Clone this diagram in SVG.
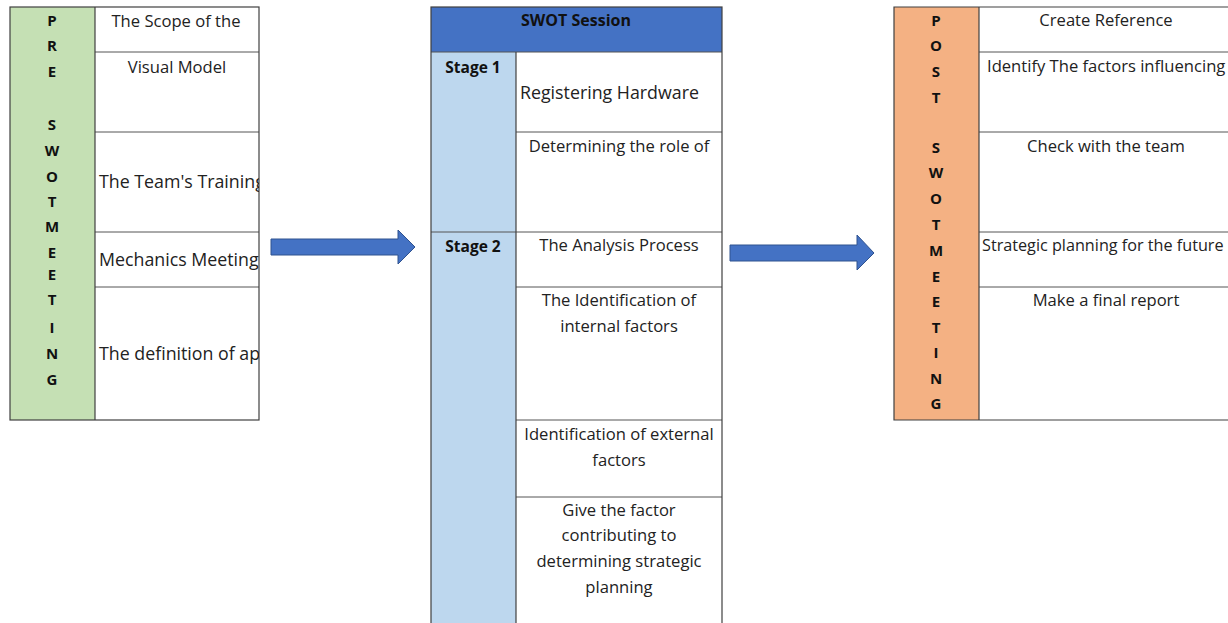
<svg xmlns="http://www.w3.org/2000/svg" width="1228" height="623" viewBox="0 0 1228 623">
<style>
.border{fill:none;stroke:#404040;stroke-width:1.2}
.sep{stroke:#555;stroke-width:1}
.t{font-family:"Open Sans","Liberation Sans",sans-serif;fill:#222}
.c{text-anchor:middle}
.b{font-family:"Open Sans","Liberation Sans",sans-serif;font-weight:bold;font-size:15px;fill:#111;text-anchor:middle}
.s15{font-size:16.6px}
.s17{font-size:17.8px}
.arrow{fill:#4472C4;stroke:#2F528F;stroke-width:1}
</style>
<defs>
<clipPath id="clipL"><rect x="96" y="7" width="163" height="414"/></clipPath>
</defs>
<rect width="1228" height="623" fill="#fff"/>

<g id="pre-swot-meeting">
<rect x="10" y="7" width="85" height="413" fill="#C5E0B4"/>
<rect x="95" y="7" width="164" height="413" fill="#fff"/>
<line class="sep" x1="95" y1="52" x2="259" y2="52"/>
<line class="sep" x1="95" y1="132" x2="259" y2="132"/>
<line class="sep" x1="95" y1="232" x2="259" y2="232"/>
<line class="sep" x1="95" y1="287" x2="259" y2="287"/>
<line class="border" x1="95" y1="7" x2="95" y2="420"/>
<rect class="border" x="10" y="7" width="249" height="413"/>
<g class="b">
<text x="52" y="26">P</text><text x="52" y="51">R</text><text x="52" y="77">E</text>
<text x="52" y="130">S</text><text x="52" y="156">W</text><text x="52" y="182">O</text><text x="52" y="207">T</text>
<text x="52" y="232">M</text><text x="52" y="258">E</text><text x="52" y="280">E</text><text x="52" y="305">T</text>
<text x="52" y="333">I</text><text x="52" y="359">N</text><text x="52" y="385">G</text>
</g>
<g clip-path="url(#clipL)">
<text class="t c s15" x="176" y="27">The Scope of the</text>
<text class="t c s15" x="177" y="73">Visual Model</text>
<text class="t s17" x="99" y="188">The Team's Training</text>
<text class="t s17" x="99" y="266">Mechanics Meeting</text>
<text class="t s17" x="99" y="360">The definition of app</text>
</g>
</g>

<g id="swot-session">
<rect x="431" y="7" width="291" height="45" fill="#4472C4"/>
<rect x="431" y="52" width="85" height="575" fill="#BDD7EE"/>
<rect x="516" y="52" width="206" height="575" fill="#fff"/>
<line class="sep" x1="431" y1="52" x2="722" y2="52"/>
<line class="sep" x1="516" y1="132" x2="722" y2="132"/>
<line class="sep" x1="431" y1="232" x2="722" y2="232"/>
<line class="sep" x1="516" y1="287" x2="722" y2="287"/>
<line class="sep" x1="516" y1="420" x2="722" y2="420"/>
<line class="sep" x1="516" y1="497" x2="722" y2="497"/>
<line class="border" x1="516" y1="52" x2="516" y2="627"/>
<rect class="border" x="431" y="7" width="291" height="620"/>
<text class="b" x="576" y="26" style="font-size:16px">SWOT Session</text>
<text class="b" x="473" y="73" style="font-size:15.5px">Stage 1</text>
<text class="b" x="473" y="252" style="font-size:15.5px">Stage 2</text>
<text class="t s17" x="520" y="99">Registering Hardware</text>
<text class="t c s15" x="619" y="152">Determining the role of</text>
<text class="t c s15" x="619" y="251">The Analysis Process</text>
<text class="t c s15" x="619" y="306">The Identification of</text>
<text class="t c s15" x="619" y="332">internal factors</text>
<text class="t c s15" x="619" y="440">Identification of external</text>
<text class="t c s15" x="619" y="466">factors</text>
<text class="t c s15" x="619" y="516">Give the factor</text>
<text class="t c s15" x="619" y="541">contributing to</text>
<text class="t c s15" x="619" y="567">determining strategic</text>
<text class="t c s15" x="619" y="593">planning</text>
</g>

<g id="post-swot-meeting">
<rect x="894" y="7" width="85" height="413" fill="#F4B183"/>
<rect x="979" y="7" width="252" height="413" fill="#fff"/>
<line class="sep" x1="979" y1="52" x2="1230" y2="52"/>
<line class="sep" x1="979" y1="132" x2="1230" y2="132"/>
<line class="sep" x1="979" y1="232" x2="1230" y2="232"/>
<line class="sep" x1="979" y1="287" x2="1230" y2="287"/>
<line class="border" x1="979" y1="7" x2="979" y2="420"/>
<path class="border" d="M1232 7H894V420H1232"/>
<g class="b">
<text x="936" y="26">P</text><text x="936" y="51">O</text><text x="936" y="77">S</text><text x="936" y="103">T</text>
<text x="936" y="153">S</text><text x="936" y="178">W</text><text x="936" y="204">O</text><text x="936" y="230">T</text>
<text x="936" y="256">M</text><text x="936" y="282">E</text><text x="936" y="307">E</text><text x="936" y="333">T</text>
<text x="936" y="358">I</text><text x="936" y="384">N</text><text x="936" y="409">G</text>
</g>
<text class="t c s15" x="1106" y="26">Create Reference</text>
<text class="t s15" x="987" y="72">Identify The factors influencing</text>
<text class="t c s15" x="1106" y="152">Check with the team</text>
<text class="t" x="982" y="251" style="font-size:16.2px">Strategic planning for the future</text>
<text class="t c s15" x="1106" y="306">Make a final report</text>
</g>

<g id="connectors">
<path class="arrow" d="M271 239H398V230L415 247L398 264V255H271Z"/>
<path class="arrow" d="M730 245H857V235L874 253L857 270V261H730Z"/>
</g>
</svg>
